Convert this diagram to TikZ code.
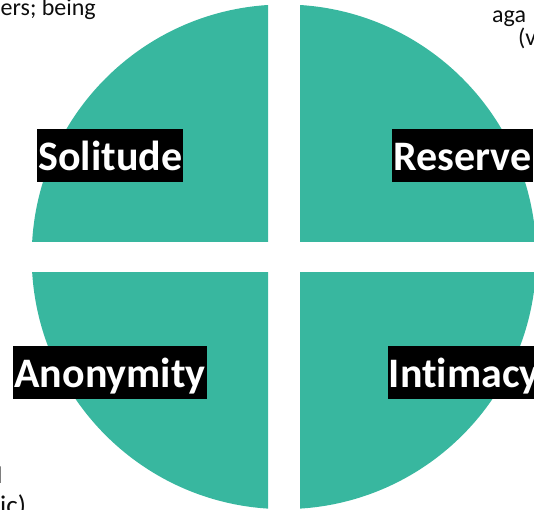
\documentclass[tikz,border=0pt]{standalone}
\usepackage{fontspec}
\setmainfont{Carlito}[Ligatures=NoCommon]
\definecolor{teal1}{RGB}{56,183,159}
\definecolor{txtgray}{RGB}{13,13,13}
\begin{document}
\begin{tikzpicture}[x=1pt,y=-1pt,
  lab/.style={fill=black, text=white, font=\fontsize{42}{50}\selectfont\bfseries,
    inner xsep=1.2pt, inner ysep=0pt, text height=41pt, text depth=12pt, anchor=north west},
  side/.style={text=txtgray, font=\fontsize{24}{29}\selectfont, inner sep=0pt},
  wedge/.style={fill=teal1}]
\useasboundingbox (0,0) rectangle (534,509);
\clip (0,0) rectangle (534,509);
\coordinate (c) at (284,256.8);
% four quadrants of one circle with a cross-shaped gap
\begin{scope}
  \clip (0,0) rectangle (268,241);
  \fill[wedge] (c) circle[radius=252.3pt];
\end{scope}
\begin{scope}
  \clip (300,0) rectangle (534,241);
  \fill[wedge] (c) circle[radius=252.3pt];
\end{scope}
\begin{scope}
  \clip (0,272.6) rectangle (268,509);
  \fill[wedge] (c) circle[radius=252.3pt];
\end{scope}
\begin{scope}
  \clip (300,272.6) rectangle (534,509);
  \fill[wedge] (c) circle[radius=252.3pt];
\end{scope}
% labels
\node[lab] (sol) at (37,129) {Solitude};
\node[lab] (res) at (392,129) {Reserve};
\node[lab] (ano) at (13,346) {Anonymity};
\node[lab] (int) at (387.5,346) {Intimacy};
% partially visible side texts
\node[side, anchor=base west] (t1) at (0.5,15) {ers; being};
\node[side, anchor=base west] (t2) at (492,22) {aga};
\node[side, anchor=base west] (t3) at (518,45) {(v};
\node[side, anchor=base east] (t4) at (2.5,483) {l};
\node[side, anchor=base west, font=\fontsize{27}{32}\selectfont] (t5) at (0,514) {ic)};
\end{tikzpicture}
\end{document}
